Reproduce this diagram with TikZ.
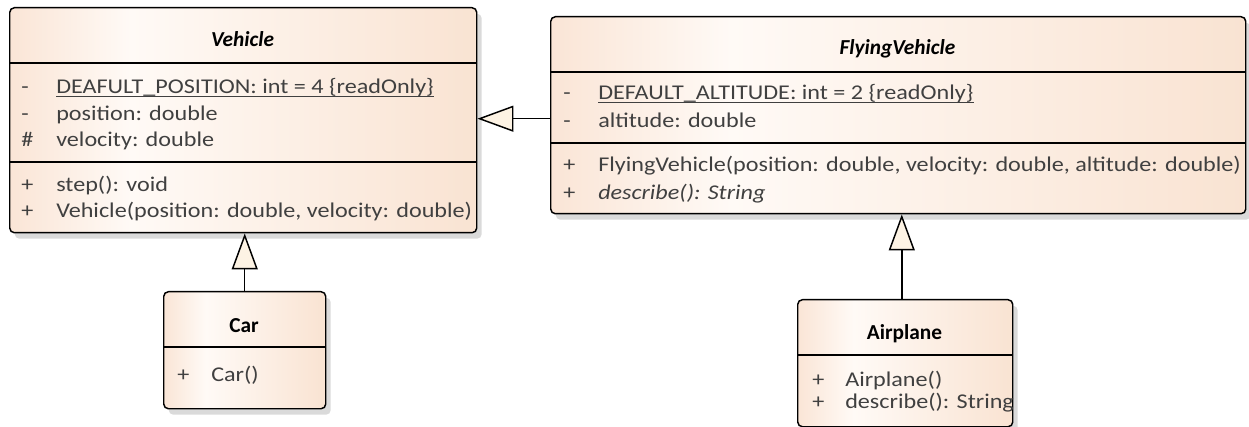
\documentclass[tikz,border=0pt]{standalone}
\usepackage{fontspec}
\setmainfont{Carlito}
\newfontfamily\memfont[FakeStretch=1.15]{Carlito}
\usetikzlibrary{arrows.meta,shadows}
\definecolor{peachL}{RGB}{250,229,214}
\definecolor{lightW}{RGB}{255,250,246}
\definecolor{peachR}{RGB}{249,227,210}
\definecolor{memgray}{RGB}{64,64,64}
\definecolor{shadowgray}{RGB}{218,218,218}
\definecolor{arrowfill}{RGB}{253,243,228}
\pgfdeclarehorizontalshading{umlshade}{100bp}{color(0bp)=(peachL); color(25bp)=(peachL); color(38bp)=(lightW); color(75bp)=(peachR); color(100bp)=(peachR)}
\begin{document}
\begin{tikzpicture}[x=0.75pt,y=-0.75pt,
 umlbox/.style={draw=black, line width=1.1pt, rounded corners=3.5pt, shading=umlshade, inner sep=0pt, anchor=north west,
   drop shadow={shadow xshift=3.75pt, shadow yshift=-4.5pt, fill=shadowgray, opacity=1}},
 sepline/.style={line width=1.1pt},
 title/.style={font=\fontsize{16}{19}\selectfont\bfseries, text=black, anchor=base, inner sep=0pt},
 abstitle/.style={title, font=\fontsize{16}{19}\selectfont\bfseries\itshape},
 mem/.style={font=\memfont\fontsize{15.75}{19}\selectfont, text=memgray, anchor=base west, inner sep=0pt},
 uline/.style={line width=0.75pt, draw=memgray},
 gen/.style={line width=1.1pt, -{Triangle[length=27pt,width=19.5pt,fill=arrowfill]}},
]
\useasboundingbox (0,0) rectangle (1249,427);

% Vehicle
\node[umlbox, minimum width=350.25pt, minimum height=168.75pt] (V) at (9,7) {};
\draw[sepline] (9,63) -- (476,63);
\draw[sepline] (9,162) -- (476,162);
\node[abstitle] (Vt) at (242.5,47) {Vehicle};
\node[mem] (Vs1) at (21,94) {-};
\node[mem] (Va1) at (56,94) {DEAFULT\_POSITION: int = 4 \{readOnly\}};
\draw[uline] ([yshift=-2.25pt]Va1.base west) -- ([yshift=-2.25pt]Va1.base east);
\node[mem] (Vs2) at (21,121) {-};
\node[mem] (Va2) at (56,121) {position: double};
\node[mem] (Vs3) at (21,147) {\#};
\node[mem] (Va3) at (56,147) {velocity: double};
\node[mem] (Vs4) at (21,192) {+};
\node[mem] (Vo1) at (56,192) {step(): void};
\node[mem] (Vs5) at (21,218) {+};
\node[mem] (Vo2) at (56,218) {Vehicle(position: double, velocity: double)};

% FlyingVehicle
\node[umlbox, minimum width=521.25pt, minimum height=147.75pt] (FV) at (550,16) {};
\draw[sepline] (550,72) -- (1245,72);
\draw[sepline] (550,143) -- (1245,143);
\node[abstitle] (FVt) at (897.5,55) {FlyingVehicle};
\node[mem] (Fs1) at (563,100) {-};
\node[mem] (Fa1) at (598,100) {DEFAULT\_ALTITUDE: int = 2 \{readOnly\}};
\draw[uline] ([yshift=-2.25pt]Fa1.base west) -- ([yshift=-2.25pt]Fa1.base east);
\node[mem] (Fs2) at (563,128) {-};
\node[mem] (Fa2) at (598,128) {altitude: double};
\node[mem] (Fs3) at (563,172) {+};
\node[mem] (Fo1) at (598,172) {FlyingVehicle(position: double, velocity: double, altitude: double)};
\node[mem] (Fs4) at (563,200) {+};
\node[mem, font=\memfont\fontsize{15.75}{19}\selectfont\itshape] (Fo2) at (598,200) {describe(): String};

% Car
\node[umlbox, minimum width=121.5pt, minimum height=87.75pt] (C) at (163,291) {};
\draw[sepline] (163,347) -- (325,347);
\node[title] (Ct) at (244,333) {Car};
\node[mem] (Cs1) at (177,382) {+};
\node[mem] (Co1) at (211,382) {Car()};

% Airplane
\node[umlbox, minimum width=161.25pt, minimum height=95.25pt] (A) at (797,299) {};
\draw[sepline] (797,355) -- (1012,355);
\node[title] (At) at (904.5,340) {Airplane};
\node[mem] (As1) at (812,387) {+};
\node[mem] (Ao1) at (845,387) {Airplane()};
\node[mem] (As2) at (812,408) {+};
\node[mem] (Ao2) at (845,408) {describe(): String};

% Generalizations
\draw[gen] (C.north) -- (C.north |- V.south);
\draw[gen] ([xshift=-2.6pt]A.north) -- ([xshift=-2.6pt]A.north |- FV.south);
\draw[gen] ([yshift=-2.6pt]FV.west) -- ([yshift=-2.6pt]FV.west -| V.east);
\end{tikzpicture}
\end{document}
